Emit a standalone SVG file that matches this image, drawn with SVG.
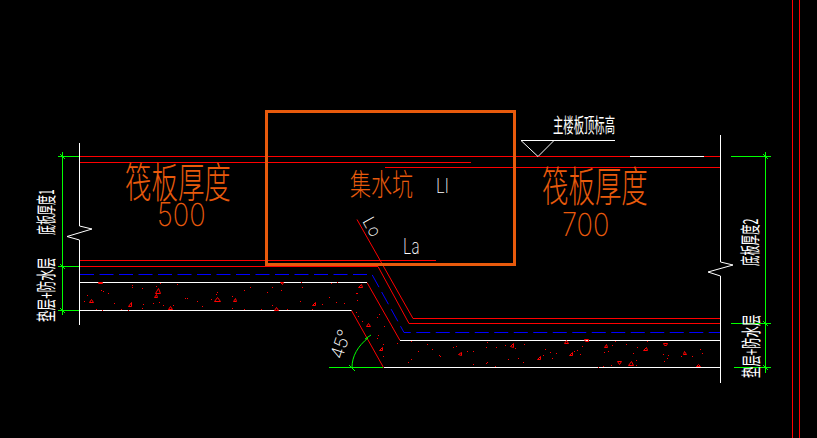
<svg xmlns="http://www.w3.org/2000/svg" width="817" height="438" viewBox="0 0 817 438">
<style>
.l{fill:none;stroke-width:1}
.r{stroke:#ff0000}.w{stroke:#ffffff}.g{stroke:#00ff00}
.b{stroke:#0000ff;stroke-dasharray:14 5.5}
.o{fill:#e85a0c;font-weight:300;font-family:"Noto Sans CJK SC","Liberation Sans",sans-serif}
.n{fill:#e85a0c;font-weight:200;font-family:Inter,"Liberation Sans",sans-serif}
.t{fill:#ffffff;font-family:"Noto Sans CJK SC","Liberation Sans",sans-serif}
.s{fill:#ffffff;font-weight:200;font-family:Inter,"Liberation Sans",sans-serif}
</style>
<rect width="817" height="438" fill="#000000"/>
<g id="connectors">
<g id="red-lines" class="l r">
<path d="M792.5 0V438M799.5 0V438" shape-rendering="crispEdges"/>
<path d="M80 156.5H630M704 156.5H720M80 162.5H471M385 167.5H720M80 260.5H436M80 266.5H378M413 318.5H720M409 323.5H720" shape-rendering="crispEdges"/>
<path d="M357 219.5L413 318.5M378 266.5L409 323.5M367 282.5L400 340.5M351.5 310.5L383.5 367.5"/>
</g>
<g id="blue-lines" class="l b">
<path d="M80 274.5H372L404 332.5H720"/>
</g>
<g id="white-lines" class="l w">
<path d="M630 156.5H704M80 282.5H367M80 310.5H351.5M400 340.5H720M384 367.5H720M521 140.5H615M521 140.5L538 156.5L554 140.5"/>
<path d="M79.5 143V226L92 229L67 236.500L79.500 240V325"/>
<path d="M720.500 135V262L733 265L708 272L720.500 276V383"/>
</g>
<g id="green-lines" class="l g">
<path d="M62.500 152V315M58 156.500H79M58 266.500H79M58 310.500H79M765.500 152V373M731 156.500H771M731 323.500H771M734 367.500H771M329 367.500H383" shape-rendering="crispEdges"/>
<path d="M352 367.500C352 356 358 346 368 338M349 365L355 371M365 339L371 335"/>
<path d="M60 154L65 159M60 264L65 269M60 308L65 313M763 154L768 159M763 321L768 326M763 365L768 370"/>
</g>
</g>
<g id="concrete">
<path fill="#ff0000" d="M132 285h1v1h-1zM132 287h1v1h-1zM142 288h1v1h-1zM160 283h1v1h-1zM177 284h1v1h-1zM101 290h1v1h-1zM103 291h1v1h-1zM108 293h1v1h-1zM87 295h1v1h-1zM84 301h1v1h-1zM114 303h1v1h-1zM143 304h1v1h-1zM153 303h1v1h-1zM159 302h1v1h-1zM163 305h1v1h-1zM173 305h1v1h-1zM185 298h1v1h-1zM187 298h1v1h-1zM197 301h1v1h-1zM202 306h1v1h-1zM211 299h1v1h-1zM216 294h1v1h-1zM217 292h1v1h-1zM96 309h1v1h-1zM102 310h1v1h-1zM121 309h1v1h-1zM128 310h1v1h-1zM142 308h1v1h-1zM156 286h1v1h-1zM250 287h1v1h-1zM272 287h1v1h-1zM302 287h1v1h-1zM244 290h1v1h-1zM267 292h1v1h-1zM281 290h1v1h-1zM232 296h1v1h-1zM356 293h1v1h-1zM329 297h1v1h-1zM357 300h1v1h-1zM300 301h1v1h-1zM322 304h1v1h-1zM336 302h1v1h-1zM344 303h1v1h-1zM272 305h1v1h-1zM232 308h1v1h-1zM244 309h1v1h-1zM261 309h1v1h-1zM287 309h1v1h-1zM312 309h1v1h-1zM331 283h1v1h-1zM337 282h1v1h-1zM301 282h1v1h-1zM356 312h1v1h-1zM383 344h1v1h-1zM397 343h1v1h-1zM411 341h1v1h-1zM427 344h1v1h-1zM432 349h1v1h-1zM418 351h1v1h-1zM453 347h1v1h-1zM456 346h1v1h-1zM467 351h1v1h-1zM473 351h1v1h-1zM487 342h1v1h-1zM486 347h1v1h-1zM496 347h1v1h-1zM505 345h1v1h-1zM515 348h1v1h-1zM524 344h1v1h-1zM545 349h1v1h-1zM543 355h1v1h-1zM518 358h1v1h-1zM508 359h1v1h-1zM523 362h1v1h-1zM487 362h1v1h-1zM486 363h1v1h-1zM473 364h1v1h-1zM408 362h1v1h-1zM411 359h1v1h-1zM383 356h1v1h-1zM439 355h1v1h-1zM440 356h1v1h-1zM495 366h1v1h-1zM582 346h1v1h-1zM574 351h1v1h-1zM577 350h1v1h-1zM580 354h1v1h-1zM550 352h1v1h-1zM556 353h1v1h-1zM552 358h1v1h-1zM604 352h1v1h-1zM608 351h1v1h-1zM612 345h1v1h-1zM615 341h1v1h-1zM626 344h1v1h-1zM637 347h1v1h-1zM633 353h1v1h-1zM647 341h1v1h-1zM636 360h1v1h-1zM611 365h1v1h-1zM603 366h1v1h-1zM598 367h1v1h-1zM636 365h1v1h-1zM663 354h1v1h-1zM668 355h1v1h-1zM667 358h1v1h-1zM664 361h1v1h-1zM681 356h1v1h-1zM692 356h1v1h-1zM700 349h1v1h-1zM702 353h1v1h-1zM357 293h1v1h-1zM358 316h1v1h-1zM362 321h1v1h-1zM377 317h1v1h-1zM379 314h1v1h-1zM384 326h1v1h-1zM392 327h1v1h-1zM378 335h1v1h-1zM377 338h1v1h-1z"/>
<path class="l r" d="M155.500 293.500l3 -5l2 5zM154.500 297.500l2 -3l1 3zM128.500 306.500l3 -4l0 4zM89.500 302.500l2 -3l2 3zM168.500 309.500l2 -3l2 3zM214.500 301.500l3 -4l3 4zM98.500 282.500h4v1h-4zM233.500 301.500l2 -3l1 3zM312.500 305.500l3 -3l0 3zM274.500 310.500l2 -3l2 3zM358.500 287.500l3 -3l1 3zM280.500 282.500l2 2l1 -2zM458.500 354.500l3 -2l0 3zM510.500 346.500l3 -3l0 4zM537.500 359.500l3 -3l0 3zM379.500 350.500l3 -3l0 3zM564.500 343.500l2 -3l2 3zM569.500 355.500l3 -3l0 3zM584.500 339.500h4v2h-3zM604.500 347.500l2 -3l1 3zM643.500 350.500l3 -3l1 3zM617.500 361.500h4l-2 3zM628.500 365.500l3 -4l2 4zM663.500 343.500h4l-1 2h-2zM683.500 354.500l1 -3l2 3zM696.500 366.500l2 -2l2 2zM366.500 326.500l2 -3l2 3z"/>
</g>
<g id="pit-box">
<rect x="266.500" y="111.500" width="248" height="153" fill="none" stroke="#e85a0c" stroke-width="3"/>
<text class="o" transform="translate(350,195) scale(.7,1)" font-size="30">集水坑</text>
</g>
<g id="raft-500">
<text class="o" transform="translate(125,198) scale(.63,1)" font-size="42">筏板厚度</text>
<text class="n" transform="translate(157,226) scale(.85,1)" font-size="32">500</text>
</g>
<g id="raft-700">
<text class="o" transform="translate(542,202) scale(.63,1)" font-size="42">筏板厚度</text>
<text class="n" transform="translate(562,236) scale(.85,1)" font-size="32">700</text>
</g>
<g id="labels">
<text class="t" transform="translate(553,133) scale(.517,1)" font-size="20">主楼板顶标高</text>
<text class="s" transform="translate(436,193) scale(.8,1)" font-size="20">Ll</text>
<text class="s" transform="translate(403,254) scale(.72,1)" font-size="21">La</text>
<text class="s" transform="translate(362,221) rotate(61)" font-size="17">Lo</text>
<text class="s" transform="translate(342,360) rotate(-72)" font-size="18">45°</text>
<text class="t" transform="translate(54,235) rotate(-90) scale(.5,1)" font-size="20">底板厚度1</text>
<text class="t" transform="translate(54,322) rotate(-90) scale(.58,1)" font-size="20">垫层+防水层</text>
<text class="t" transform="translate(758,266) rotate(-90) scale(.52,1)" font-size="20">底板厚度2</text>
<text class="t" transform="translate(759,378) rotate(-90) scale(.57,1)" font-size="20">垫层+防水层</text>
</g>
</svg>
